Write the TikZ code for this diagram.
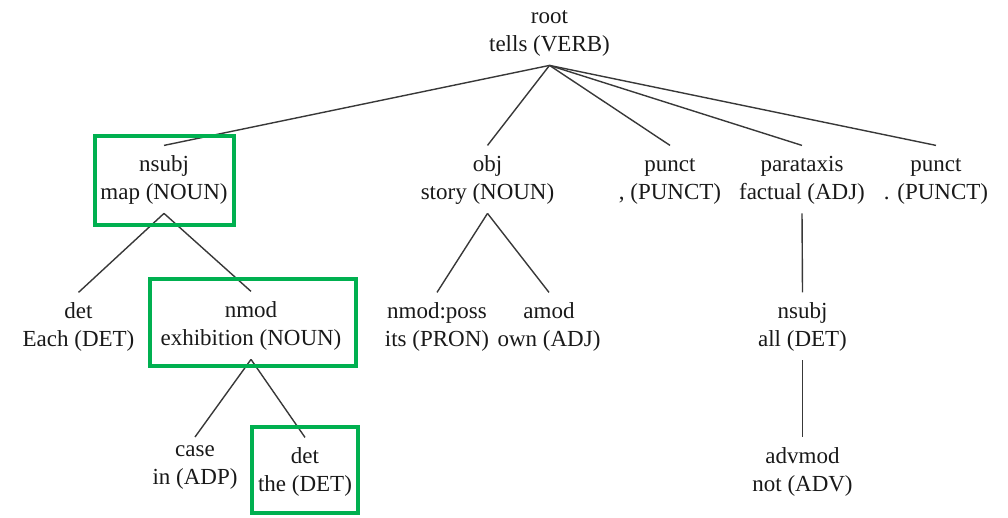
\documentclass[tikz,border=0pt]{standalone}
\usepackage{fontspec}
\setmainfont{Liberation Serif}
\definecolor{hlgreen}{RGB}{0,176,80}
\newcommand\twoline[2]{\strut #1\\\strut #2}
\begin{document}
\begin{tikzpicture}[x=1pt,y=-1pt,
  tok/.style={align=center, inner sep=0pt, outer sep=6pt,
    font=\fontsize{23}{28}\selectfont, text=black!90},
  edge/.style={draw=black!78, line width=1.4pt},
  hl/.style={draw=hlgreen, line width=4pt}]
\useasboundingbox (0,0) rectangle (1008,517);

% tokens
\node[tok] (root) at (549.5,31.4)  {\twoline{root}{tells (VERB)}};
\node[tok] (map)  at (164,179.4)   {\twoline{nsubj}{map (NOUN)}};
\node[tok] (obj)  at (487.5,179.4) {\twoline{obj}{story (NOUN)}};
\node[tok] (pa)   at (670,179.4)   {\twoline{punct}{, (PUNCT)}};
\node[tok] (para) at (802,179.4)   {\twoline{parataxis}{factual (ADJ)}};
\node[tok] (pb)   at (936,179.4)   {\twoline{punct}{. (PUNCT)}};
\node[tok] (each) at (78.5,326.4)  {\twoline{det}{Each (DET)}};
\node[tok] (nmod) at (251,325.4)   {\twoline{nmod}{exhibition (NOUN)}};
\node[tok] (poss) at (437,326.4)   {\twoline{nmod:poss}{its (PRON)}};
\node[tok] (amod) at (549,326.4)   {\twoline{amod}{own (ADJ)}};
\node[tok] (all)  at (802.5,326.4) {\twoline{nsubj}{all (DET)}};
\node[tok, outer sep=0pt] (case) at (195,465) {\twoline{case}{in (ADP)}};
\node[tok] (the)  at (305,471.4)   {\twoline{det}{the (DET)}};
\node[tok] (adv)  at (802.5,471.4) {\twoline{advmod}{not (ADV)}};

% dependency edges
\foreach \p/\c in {root/map, root/obj, root/pa, root/para, root/pb,
                   map/each, map/nmod, obj/poss, obj/amod, para/all,
                   nmod/case, nmod/the, all/adv}
  \draw[edge] (\p.south) -- (\c.north);

% highlighted tokens
\draw[hl] ([shift={(-69.5,-43.4)}]map.center) rectangle ([shift={(69.5,45.6)}]map.center);
\draw[hl] ([shift={(-101,-46.4)}]nmod.center) rectangle ([shift={(105,40.6)}]nmod.center);
\draw[hl] ([shift={(-53,-44.4)}]the.center) rectangle ([shift={(53,41.6)}]the.center);
\end{tikzpicture}
\end{document}
